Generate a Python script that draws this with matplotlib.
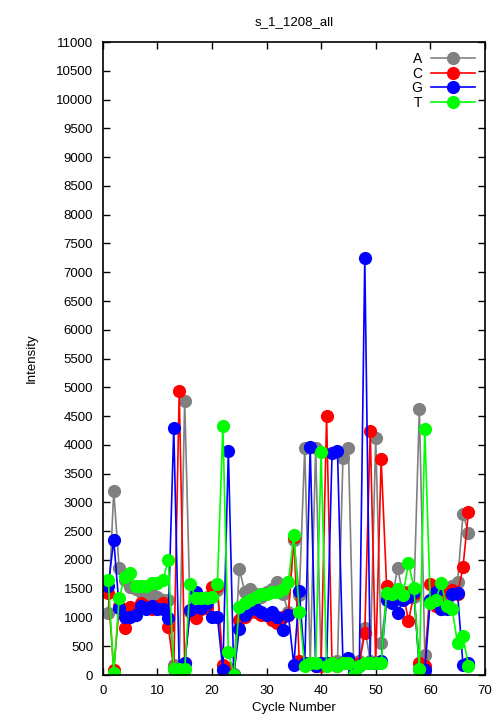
import numpy as np
import matplotlib
matplotlib.use("Agg")
import matplotlib.pyplot as plt

plt.rcParams['font.family'] = ['Liberation Sans', 'DejaVu Sans']

cycles = list(range(1, 68))

# intensities per cycle
int_a = [1080, 3200, 1860, 1650, 1530, 1500, 1450, 1400, 1400, 1350,
         1300, 1300, 170, 100, 4770, 1100, 1300, 1250, 1350, 1400,
         1480, 150, 100, 20, 1850, 1450, 1500, 1400, 1350, 1450,
         1500, 1620, 1400, 1100, 2350, 1390, 3950, 200, 3950, 200,
         200, 200, 250, 3770, 3950, 30, 250, 810, 250, 4120,
         550, 1350, 1300, 1860, 1400, 1450, 1350, 4630, 350, 1300,
         1350, 1200, 1300, 1550, 1620, 2800, 2470]
int_c = [1420, 90, 1200, 820, 1190, 1100, 1250, 1200, 1150, 1200,
         1250, 840, 100, 4930, 200, 1130, 990, 1150, 1170, 1530,
         1550, 170, 130, 0, 950, 1000, 1100, 1100, 1050, 1050,
         950, 900, 1000, 1050, 2400, 250, 200, 200, 150, 150,
         4510, 200, 150, 200, 250, 0, 200, 730, 4240, 200,
         3760, 1550, 1450, 1450, 1450, 940, 1400, 200, 150, 1580,
         1200, 1150, 1450, 1480, 1400, 1880, 2840]
int_g = [1550, 2350, 1160, 1010, 1010, 1050, 1200, 1150, 1200, 1150,
         1150, 990, 4300, 100, 200, 1130, 1450, 1170, 1250, 1010,
         1000, 90, 3900, 0, 800, 1050, 1150, 1150, 1100, 1050,
         1100, 1000, 780, 1050, 170, 1460, 200, 3960, 150, 200,
         200, 3850, 3890, 200, 300, 50, 150, 7240, 200, 200,
         250, 1300, 1250, 1080, 1300, 1350, 1450, 100, 80, 1300,
         1450, 1150, 1150, 1400, 1420, 170, 200]
int_t = [1650, 30, 1340, 1700, 1770, 1550, 1550, 1550, 1600, 1600,
         1650, 2000, 100, 100, 100, 1590, 1340, 1340, 1340, 1350,
         1590, 4330, 400, 0, 1190, 1250, 1300, 1350, 1400, 1400,
         1450, 1450, 1500, 1620, 2430, 1100, 150, 200, 200, 3870,
         150, 200, 150, 200, 200, 0, 150, 200, 200, 200,
         200, 1420, 1400, 1500, 1390, 1950, 1520, 100, 4270, 1250,
         1300, 1600, 1200, 1150, 550, 670, 150]

series = [("A", int_a, "#808080"), ("C", int_c, "#ff0000"),
          ("G", int_g, "#0000ff"), ("T", int_t, "#00ff00")]

fig = plt.figure(figsize=(5.04, 7.2), dpi=100)
ax = fig.add_axes([0.204, 0.0625, 0.758, 0.879])

for name, vals, col in series:
    ax.plot(cycles, vals, color=col, lw=1.2, marker="o", markersize=9.5,
            markeredgewidth=0, label=name)

ax.set_xlim(0, 70)
ax.set_ylim(0, 11000)
ax.set_xticks(np.arange(0, 71, 10))
ax.set_yticks(np.arange(0, 11001, 500))
ax.tick_params(direction="in", top=True, right=True, labelsize=9.5, length=5,
               width=1, pad=7)
for s in ax.spines.values():
    s.set_linewidth(1.2)

ax.set_title("s_1_1208_all", fontsize=9.5, pad=12)
ax.set_xlabel("Cycle Number", fontsize=9.5, labelpad=4)
ax.set_ylabel("Intensity", fontsize=9.5, labelpad=13)

ax.legend(loc="upper right", frameon=False, markerfirst=False, fontsize=10,
          handlelength=3.2, labelspacing=0.05, borderaxespad=0.3, handletextpad=0.6)

fig.savefig("out.png", dpi=100)
